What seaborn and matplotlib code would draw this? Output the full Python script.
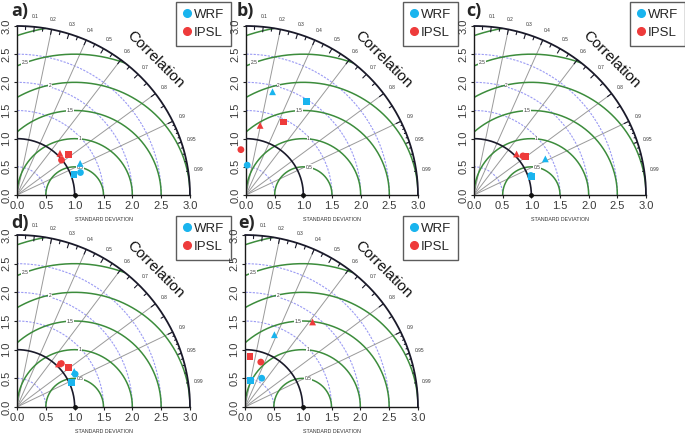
import numpy as np
import pandas as pd
import seaborn as sns
import matplotlib.pyplot as plt
from matplotlib.lines import Line2D

sns.set_style("white")
plt.rcParams["font.family"] = ["Liberation Sans", "DejaVu Sans"]

# Values (reference std = 1)
# order in every panel: WRF circle, WRF square, WRF triangle, IPSL circle, IPSL square, IPSL triangle
models = ["WRF", "WRF", "WRF", "IPSL", "IPSL", "IPSL"]
shapes = ["circle", "square", "triangle", "circle", "square", "triangle"]

sd_a = [1.17, 1.05, 1.23, 0.99, 1.15, 1.05]
corr_a = [0.94, 0.94, 0.89, 0.78, 0.78, 0.71]

sd_b = [0.53, 1.96, 1.89, 0.81, 1.45, 1.26]
corr_b = [0.04, 0.535, 0.245, -0.11, 0.45, 0.195]

sd_c = [1.05, 1.05, 1.40, 1.10, 1.13, 1.04]
corr_c = [0.944, 0.951, 0.889, 0.776, 0.798, 0.714]

sd_d = [1.16, 1.04, 1.17, 1.08, 1.13, 1.04]
corr_d = [0.869, 0.911, 0.848, 0.712, 0.790, 0.692]

sd_e = [0.58, 0.47, 1.36, 0.83, 0.88, 1.89]
corr_e = [0.50, 0.21, 0.375, 0.33, 0.10, 0.62]

panel_labels = ["a)", "b)", "c)", "d)", "e)"]
std_ticks = [0.0, 0.5, 1.0, 1.5, 2.0, 2.5, 3.0]
corr_labels = [0.1, 0.2, 0.3, 0.4, 0.5, 0.6, 0.7, 0.8, 0.9, 0.95, 0.99]
corr_lines = [0.2, 0.4, 0.6, 0.8, 0.9]
sd_arcs = [0.5, 1.5, 2.0, 2.5]
rms_arcs = [0.5, 1, 1.5, 2, 2.5, 3]
rms_text = ["0.5", "1", "1.5", "2", "2.5"]
rms_text_angle = [79, 85, 93, 102.5, 110]   # where the small labels sit on the arcs

blue = "#19b4ee"
red = "#ee3b3b"
green = "#3c8c3c"
maxsd = 3.0

fig = plt.figure(figsize=(6.85, 4.33), dpi=100)


def taylor(ax, sd, corr):
    th = np.linspace(0, np.pi / 2, 300)
    # std dev arcs
    for s in sd_arcs:
        ax.plot(s * np.cos(th), s * np.sin(th), color="#9b9bf4", lw=0.8, ls=(0, (2, 1.2)), zorder=1)
    # centred rms arcs around the reference point
    t = np.linspace(0, np.pi, 600)
    for g in rms_arcs:
        x = 1 + g * np.cos(t)
        y = g * np.sin(t)
        ok = (x >= 0) & (x ** 2 + y ** 2 <= maxsd ** 2)
        ax.plot(np.where(ok, x, np.nan), np.where(ok, y, np.nan), color=green, lw=1.1, zorder=2)
    for g, a in zip(rms_text, rms_text_angle):
        a = np.radians(a)
        ax.text(1 + float(g) * np.cos(a), float(g) * np.sin(a), g, fontsize=3.5, color="#333333",
                ha="center", va="center", zorder=3,
                bbox=dict(facecolor="white", edgecolor="none", pad=0.3))
    # correlation rays
    for c in corr_lines:
        ax.plot([0, maxsd * c], [0, maxsd * np.sqrt(1 - c * c)], color="#9a9a9a", lw=0.7, zorder=1)
    # reference arc and outer arc
    ax.plot(np.cos(th), np.sin(th), color="#1a1a2a", lw=1.2, zorder=3)
    ax.plot(maxsd * np.cos(th), maxsd * np.sin(th), color="#1a1a2a", lw=1.3, zorder=3, clip_on=False)
    ax.plot([1], [0], marker="o", color="#111111", ms=2.5, clip_on=False, zorder=4)
    # ticks on the outer arc
    big = np.arange(0.1, 0.95, 0.1)
    med = np.arange(0.05, 1.0, 0.1)
    small = np.arange(0.91, 0.995, 0.01)
    for vals, f in [(big, 0.97), (med, 0.98), (small, 0.99)]:
        for c in vals:
            s = np.sqrt(1 - c * c)
            ax.plot([maxsd * c, f * maxsd * c], [maxsd * s, f * maxsd * s], color="#1a1a2a", lw=0.8,
                    clip_on=False, zorder=3)
    for c in corr_labels:
        s = np.sqrt(1 - c * c)
        ax.text(1.06 * maxsd * c, 1.06 * maxsd * s, f"{c:g}", fontsize=3.5, color="#333333",
                ha="center", va="center", clip_on=False)
    ax.text(1.13 * maxsd * np.cos(np.pi / 4), 1.13 * maxsd * np.sin(np.pi / 4), "Correlation",
            fontsize=11, rotation=-45, ha="center", va="center", color="#111111")

    df = pd.DataFrame({"sd": sd, "corr": corr, "model": models, "shape": shapes})
    df["x"] = df["sd"] * df["corr"]
    df["y"] = df["sd"] * np.sqrt(1 - df["corr"] ** 2)
    sns.scatterplot(data=df, x="x", y="y", hue="model", style="shape",
                    palette={"WRF": blue, "IPSL": red},
                    markers={"circle": "o", "square": "s", "triangle": "^"},
                    s=24, linewidth=0, legend=False, ax=ax, clip_on=False, zorder=6)

    ax.set_xlim(0, maxsd)
    ax.set_ylim(0, maxsd)
    ax.set_xticks(std_ticks)
    ax.set_yticks(std_ticks)
    ax.set_xticklabels([f"{v:.1f}" for v in std_ticks], fontsize=8, color="#3a3a3a")
    ax.set_yticklabels([f"{v:.1f}" for v in std_ticks], fontsize=8, color="#3a3a3a",
                       rotation=90, va="center")
    ax.tick_params(length=2.5, width=0.8, pad=1.5, color="#222222", bottom=True, left=True)
    ax.set_xlabel("STANDARD DEVIATION", fontsize=3.8, labelpad=4.5, color="#333333")
    ax.set_ylabel("")
    sns.despine(ax=ax)
    for sp in ["left", "bottom"]:
        ax.spines[sp].set_color("#1a1a1a")
        ax.spines[sp].set_linewidth(1.0)


W, H = 685, 433
boxes = [(17, 26, 173, 169), (246, 26, 172, 169), (474, 26, 172, 169),
         (17, 235, 173, 172), (245, 235, 173, 172)]
legend_pos = [(176, 2), (403, 2), (630, 2), (176, 216), (403, 216)]
label_pos = [(11, 11), (237, 11), (466, 11), (11, 223), (238, 223)]
all_sd = [sd_a, sd_b, sd_c, sd_d, sd_e]
all_corr = [corr_a, corr_b, corr_c, corr_d, corr_e]

for i in range(5):
    x0, y0, w, h = boxes[i]
    ax = fig.add_axes([x0 / W, 1 - (y0 + h) / H, w / W, h / H])
    taylor(ax, all_sd[i], all_corr[i])
    handles = [Line2D([], [], marker="o", ls="", color=blue, markersize=5.5, label="WRF"),
               Line2D([], [], marker="o", ls="", color=red, markersize=5.5, label="IPSL")]
    lx, ly = legend_pos[i]
    leg = ax.legend(handles=handles, loc="upper left", bbox_to_anchor=(lx / W, 1 - ly / H),
                    bbox_transform=fig.transFigure, frameon=True, fancybox=False,
                    edgecolor="#333333", fontsize=9.5, handletextpad=0.15, borderpad=0.5,
                    handlelength=0.7, labelspacing=0.45, borderaxespad=0)
    leg.get_frame().set_linewidth(1.0)
    px, py = label_pos[i]
    fig.text(px / W, 1 - py / H, panel_labels[i], fontsize=13, fontweight="bold",
             family=["Open Sans", "DejaVu Sans"], va="center", ha="left")

fig.savefig("out.png", dpi=100)
